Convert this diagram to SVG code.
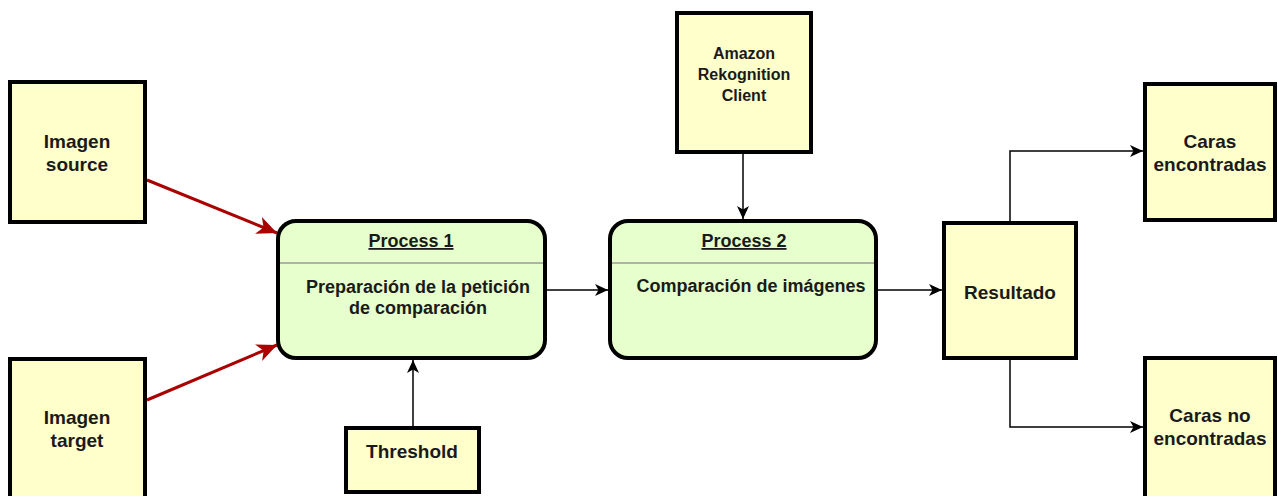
<svg xmlns="http://www.w3.org/2000/svg" width="1278" height="496" viewBox="0 0 1278 496">
  <style>
    .box { fill: #FFFFCC; stroke: #000; stroke-width: 4; }
    .proc { fill: #E6FFCC; stroke: #000; stroke-width: 4; }
    .div { stroke: #9a9a9a; stroke-width: 1.5; }
    .lbl { font-family: "Liberation Sans", Arial, sans-serif; font-weight: bold; font-size: 19px; fill: #1a1a1a; text-anchor: middle; }
    .sm { font-size: 16px; }
    .pt { font-size: 18px; text-decoration: underline; }
    .pb { font-size: 18px; }
    .edge { fill: none; stroke: #000; stroke-width: 1.5; }
    .red { fill: none; stroke: #AA0000; stroke-width: 3; }
  </style>
  <defs>
    <marker id="arrow" markerUnits="userSpaceOnUse" markerWidth="15" markerHeight="14" refX="13" refY="7" orient="auto" viewBox="0 0 15 14">
      <path d="M0,1 L13,7 L0,13 L3.5,7 z" fill="#000"/>
    </marker>
    <marker id="arrowRed" markerUnits="userSpaceOnUse" markerWidth="22" markerHeight="20" refX="20" refY="10" orient="auto" viewBox="0 0 22 20">
      <path d="M0,1 L20,10 L0,19 L5.5,10 z" fill="#AA0000"/>
    </marker>
  </defs>

  <!-- connectors -->
  <g id="connectors">
    <line class="red" x1="147" y1="180" x2="277" y2="233" marker-end="url(#arrowRed)"/>
    <line class="red" x1="147" y1="400" x2="277" y2="345" marker-end="url(#arrowRed)"/>
    <line class="edge" x1="547" y1="290" x2="608" y2="290" marker-end="url(#arrow)"/>
    <line class="edge" x1="743" y1="154" x2="743" y2="219" marker-end="url(#arrow)"/>
    <line class="edge" x1="413" y1="426" x2="413" y2="360" marker-end="url(#arrow)"/>
    <line class="edge" x1="878" y1="290" x2="942" y2="290" marker-end="url(#arrow)"/>
    <polyline class="edge" points="1010,221 1010,151 1143,151" marker-end="url(#arrow)"/>
    <polyline class="edge" points="1010,360 1010,427 1143,427" marker-end="url(#arrow)"/>
  </g>

  <g id="imagen-source">
    <rect class="box" x="10" y="82" width="135" height="140"/>
    <text class="lbl" x="77" y="148">Imagen</text>
    <text class="lbl" x="77" y="171">source</text>
  </g>

  <g id="imagen-target">
    <rect class="box" x="10" y="359" width="135" height="140"/>
    <text class="lbl" x="77" y="424">Imagen</text>
    <text class="lbl" x="77" y="447">target</text>
  </g>

  <g id="threshold">
    <rect class="box" x="346" y="428" width="133" height="64"/>
    <text class="lbl" x="412" y="458">Threshold</text>
  </g>

  <g id="amazon-rekognition-client">
    <rect class="box" x="677" y="13" width="134" height="139"/>
    <text class="lbl sm" x="744" y="59">Amazon</text>
    <text class="lbl sm" x="744" y="80">Rekognition</text>
    <text class="lbl sm" x="744" y="101">Client</text>
  </g>

  <g id="process-1">
    <rect class="proc" x="278" y="221" width="267" height="137" rx="18" ry="18"/>
    <line class="div" x1="280" y1="263" x2="543" y2="263"/>
    <text class="lbl pt" x="411" y="247">Process 1</text>
    <text class="lbl pb" x="418" y="293">Preparación de la petición</text>
    <text class="lbl pb" x="418" y="314">de comparación</text>
  </g>

  <g id="process-2">
    <rect class="proc" x="610" y="221" width="266" height="137" rx="18" ry="18"/>
    <line class="div" x1="612" y1="263" x2="874" y2="263"/>
    <text class="lbl pt" x="744" y="247">Process 2</text>
    <text class="lbl pb" x="751" y="292">Comparación de imágenes</text>
  </g>

  <g id="resultado">
    <rect class="box" x="944" y="223" width="132" height="135"/>
    <text class="lbl" x="1010" y="299">Resultado</text>
  </g>

  <g id="caras-encontradas">
    <rect class="box" x="1145" y="84" width="130" height="136"/>
    <text class="lbl" x="1210" y="148">Caras</text>
    <text class="lbl" x="1210" y="171">encontradas</text>
  </g>

  <g id="caras-no-encontradas">
    <rect class="box" x="1145" y="358" width="130" height="140"/>
    <text class="lbl" x="1210" y="422">Caras no</text>
    <text class="lbl" x="1210" y="445">encontradas</text>
  </g>
</svg>
